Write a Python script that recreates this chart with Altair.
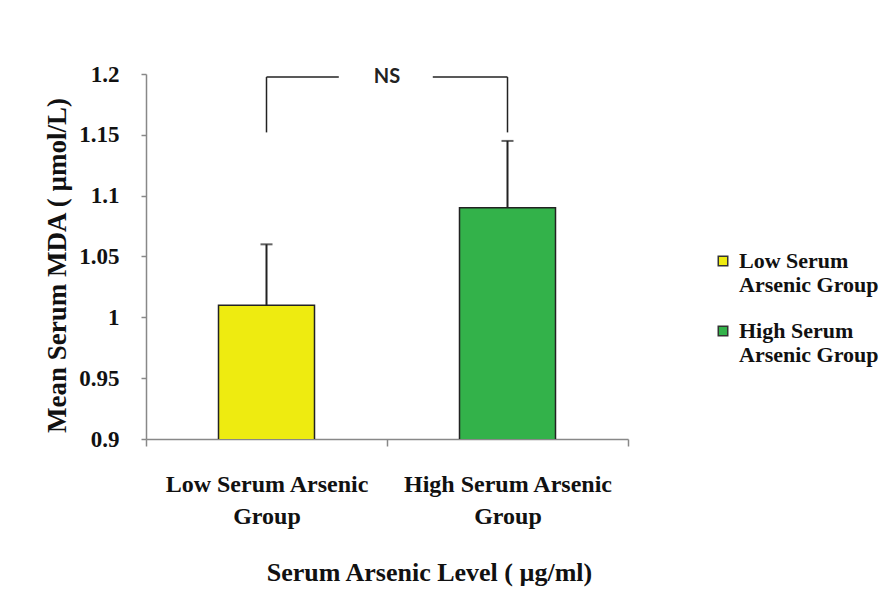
import altair as alt
import pandas as pd

groups = ["Low Serum Arsenic Group", "High Serum Arsenic Group"]
means = [1.01, 1.09]
uppers = [1.06, 1.145]
colors = ["#EEEB10", "#33B24A"]

# significance bracket (x in category units: 0..2, bar centres at 0.5 and 1.5)
br_x = [0.5, 0.5, 1.19, 1.5]
br_x2 = [0.5, 0.8, 1.5, 1.5]
br_y = [1.152, 1.1975, 1.1975, 1.152]
br_y2 = [1.1975, 1.1975, 1.1975, 1.1975]
ns_label = ["NS"]
ns_x = [1.0]
ns_y = [1.1975]

df = pd.DataFrame({"group": groups, "mean": means, "upper": uppers})
br = pd.DataFrame({"x": br_x, "x2": br_x2, "y": br_y, "y2": br_y2})
ns = pd.DataFrame({"t": ns_label, "x": ns_x, "y": ns_y})

SERIF = "Liberation Serif"
yscale = alt.Scale(domain=[0.9, 1.2], nice=False, zero=False)
xscale = alt.Scale(domain=groups, paddingInner=0, paddingOuter=0)

x_enc = alt.X(
    "group:N",
    scale=xscale,
    sort=groups,
    title="Serum Arsenic Level ( µg/ml)",
    axis=alt.Axis(
        labelAngle=0,
        labelExpr="datum.label == 'Low Serum Arsenic Group' ? ['Low Serum Arsenic', 'Group'] : (datum.label == 'High Serum Arsenic Group' ? ['High Serum Arsenic', 'Group'] : '')",
        labelFont=SERIF, labelFontSize=24, labelFontWeight="bold", labelColor="#111",
        labelLineHeight=32, labelPadding=26, labelLimit=400,
        tickBand="extent", tickSize=7, tickColor="#888", domainColor="#888",
        domainWidth=1.5, tickWidth=1.5,
        titleFont=SERIF, titleFontSize=26, titleFontWeight="bold", titleColor="#111",
        titleX=283, titleY=133, titleBaseline="middle", titleAlign="center",
    ),
)

y_enc = alt.Y(
    "mean:Q",
    scale=yscale,
    title="Mean Serum MDA ( µmol/L)",
    axis=alt.Axis(
        values=[0.9, 0.95, 1.0, 1.05, 1.1, 1.15, 1.2], format="~g",
        grid=False, tickSize=5, tickColor="#888", domainColor="#888",
        domainWidth=1.5, tickWidth=1.5,
        labelFont=SERIF, labelFontSize=23, labelFontWeight="bold", labelColor="#111",
        labelPadding=22,
        titleFont=SERIF, titleFontSize=27, titleFontWeight="bold", titleColor="#111",
        titleX=-89, titleY=191, titleAngle=-90, titleBaseline="middle", titleAlign="center",
    ),
)

bars = alt.Chart(df).mark_bar(width=96, stroke="#222", strokeWidth=1.5, clip=True).encode(
    x=x_enc,
    y=y_enc,
    color=alt.Color(
        "group:N",
        scale=alt.Scale(domain=groups, range=colors),
        legend=alt.Legend(
            title=None, orient="none", legendX=566, legendY=176,
            symbolType="square", symbolSize=90, symbolStrokeColor="#333",
            symbolStrokeWidth=1.5,
            labelExpr="datum.label == 'Low Serum Arsenic Group' ? ['Low Serum', 'Arsenic Group'] : ['High Serum', 'Arsenic Group']",
            labelFont=SERIF, labelFontSize=22, labelFontWeight="bold", labelColor="#111",
            labelOffset=5, rowPadding=24, labelLimit=300,
        ),
    ),
)

err = alt.Chart(df).mark_rule(color="#222", strokeWidth=2).encode(
    x=x_enc,
    y=alt.Y("mean:Q", scale=yscale),
    y2="upper:Q",
)
cap = alt.Chart(df).mark_tick(color="#222", thickness=2, size=12).encode(
    x=x_enc,
    y=alt.Y("upper:Q", scale=yscale),
)

qx = alt.Scale(domain=[0, 2], nice=False, zero=False)
bracket = alt.Chart(br).mark_rule(color="#222", strokeWidth=1.5).encode(
    x=alt.X("x:Q", scale=qx, axis=None),
    x2="x2:Q",
    y=alt.Y("y:Q", scale=yscale),
    y2="y2:Q",
)
ns_text = alt.Chart(ns).mark_text(
    font="Lato", fontSize=20, fontWeight="bold", color="#222", baseline="middle"
).encode(
    x=alt.X("x:Q", scale=qx, axis=None),
    y=alt.Y("y:Q", scale=yscale),
    text="t:N",
)

main = alt.layer(bars, err, cap)
annot = alt.layer(bracket, ns_text)

chart = (
    alt.layer(main, annot)
    .resolve_scale(x="independent")
    .properties(
        width=482, height=365,
        padding={"left": 138, "top": 66, "right": 259, "bottom": 166},
        autosize="none",
        background="white",
    )
    .configure_view(stroke=None)
)

chart.save("out.html", embed_options={"renderer": "svg", "actions": False})
